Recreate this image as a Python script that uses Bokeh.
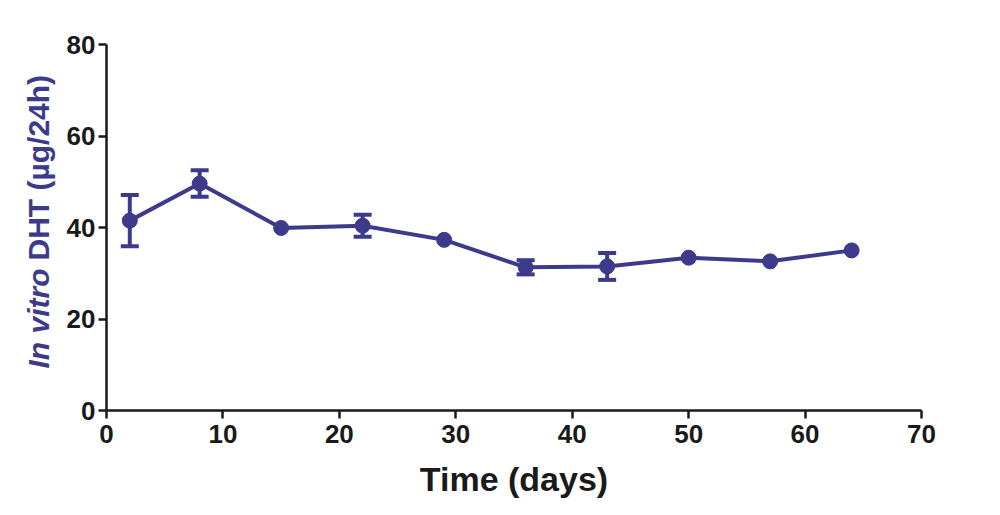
import math
from bokeh.plotting import figure
from bokeh.models import Range1d, ColumnDataSource, Whisker, TeeHead, Label, FixedTicker
from bokeh.embed import file_html
from bokeh.resources import INLINE

# Data
days = [2, 8, 15, 22, 29, 36, 43, 50, 57, 64]
dht = [41.5, 49.6, 39.9, 40.4, 37.3, 31.3, 31.5, 33.4, 32.6, 35.0]
sem = [5.6, 2.9, 0.0, 2.4, 0.0, 1.55, 2.95, 0.0, 0.0, 0.0]
x_ticks = [0, 10, 20, 30, 40, 50, 60, 70]
y_ticks = [0, 20, 40, 60, 80]

PURPLE = "#3d3a8b"
FONT = "Liberation Sans"
W, H = 1000, 515

# frame spans the whole canvas; both axes are pinned at 0 with bounds
XPX = 815 / 70.0   # px per day
YPX = 366 / 80.0   # px per unit
x_lo = -106 / XPX
x_hi = (W - 106) / XPX
y_hi = 80 + 44 / YPX
y_lo = -(H - 410) / YPX

p = figure(width=W, height=H, output_backend="svg", toolbar_location=None,
           x_range=Range1d(x_lo, x_hi), y_range=Range1d(y_lo, y_hi),
           min_border_left=0, min_border_right=0, min_border_top=0, min_border_bottom=0)
p.outline_line_color = None
p.xgrid.visible = False
p.ygrid.visible = False
p.background_fill_color = "white"
p.border_fill_color = "white"

for ax in (p.xaxis[0], p.yaxis[0]):
    ax.axis_line_width = 2.5
    ax.axis_line_color = "#1a1a1a"
    ax.major_tick_line_width = 2.5
    ax.major_tick_line_color = "#1a1a1a"
    ax.major_tick_out = 8
    ax.major_tick_in = 0
    ax.minor_tick_out = 0
    ax.minor_tick_in = 0
    ax.major_label_text_font = FONT
    ax.major_label_text_font_style = "bold"
    ax.major_label_text_font_size = "26px"
    ax.major_label_text_color = "#1a1a1a"

p.xaxis.fixed_location = 0
p.yaxis.fixed_location = 0
p.xaxis.bounds = (0, 70)
p.yaxis.bounds = (0, 80)
p.xaxis.ticker = FixedTicker(ticks=x_ticks)
p.yaxis.ticker = FixedTicker(ticks=y_ticks)
p.xaxis.major_label_standoff = 6
p.yaxis.major_label_standoff = 3

# error bars (only where visible)
ex = [d for d, s in zip(days, sem) if s > 0]
lo = [m - s for m, s in zip(dht, sem) if s > 0]
hi = [m + s for m, s in zip(dht, sem) if s > 0]
esrc = ColumnDataSource(dict(x=ex, lower=lo, upper=hi))
wh = Whisker(source=esrc, base="x", lower="lower", upper="upper",
             line_color=PURPLE, line_width=4,
             upper_head=TeeHead(size=18, line_color=PURPLE, line_width=4),
             lower_head=TeeHead(size=18, line_color=PURPLE, line_width=4))
p.add_layout(wh)

src = ColumnDataSource(dict(x=days, y=dht))
p.line("x", "y", source=src, line_color=PURPLE, line_width=4)
p.scatter("x", "y", source=src, size=15, fill_color=PURPLE, line_color=PURPLE)

# x-axis title
p.add_layout(Label(x=35, y=H - 478, y_units="screen", text="Time (days)",
                   text_align="center", text_baseline="alphabetic",
                   text_font=FONT, text_font_style="bold", text_font_size="34px",
                   text_color="#1a1a1a"))

# y-axis title, mixed italic / upright
p.add_layout(Label(x=38, y=H - 368, x_units="screen", y_units="screen", text="In vitro",
                   angle=math.pi / 2, text_align="left", text_baseline="middle",
                   text_font=FONT, text_font_style="bold italic", text_font_size="30px",
                   text_color=PURPLE))
p.add_layout(Label(x=38, y=H - 260, x_units="screen", y_units="screen", text="DHT (µg/24h)",
                   angle=math.pi / 2, text_align="left", text_baseline="middle",
                   text_font=FONT, text_font_style="bold", text_font_size="30px",
                   text_color=PURPLE))

open("out.html", "w").write(file_html(p, INLINE))
